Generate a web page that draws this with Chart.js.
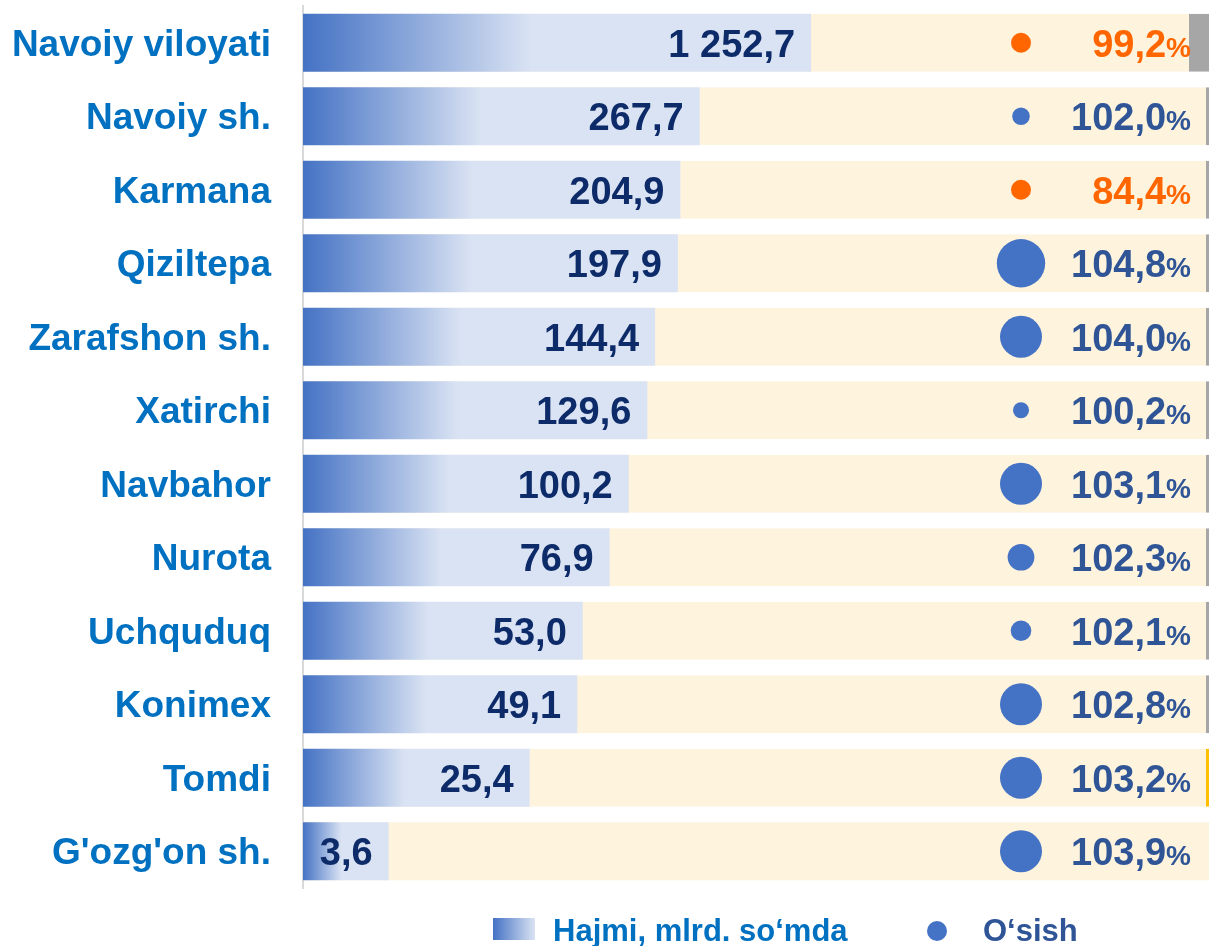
<!DOCTYPE html>
<html>
<head>
<meta charset="utf-8">
<script src="https://cdn.jsdelivr.net/npm/chart.js@4.4.1/dist/chart.umd.min.js"></script>
<style>
  body { margin: 0; background: #fff; font-family: 'Liberation Sans', Arial, sans-serif; overflow: hidden; }
  #wrap { position: relative; width: 1209px; height: 900px; }
  #legend { position: absolute; left: 0; top: 0; width: 1209px; height: 946px; overflow: hidden; pointer-events: none; }
  #legend .box { position: absolute; left: 493px; top: 918px; width: 42px; height: 22px;
    background: linear-gradient(to right, #4472c4, #dae3f3); }
  #legend .dot { position: absolute; left: 927px; top: 921px; width: 20px; height: 20px;
    border-radius: 50%; background: #4472c4; }
  #legend span { position: absolute; font-weight: bold; font-size: 31px; line-height: 31px; white-space: nowrap; }
</style>
</head>
<body>
<div id="wrap"><canvas id="barres"></canvas></div>
<div id="legend"></div>
<script>
  // categories (rayonlar)
  const labels = ['Navoiy viloyati', 'Navoiy sh.', 'Karmana', 'Qiziltepa', 'Zarafshon sh.', 'Xatirchi',
    'Navbahor', 'Nurota', 'Uchquduq', 'Konimex', 'Tomdi', "G'ozg'on sh."]

  // Hajmi, mlrd. so'mda
  const hajmi = [1252.7, 267.7, 204.9, 197.9, 144.4, 129.6, 100.2, 76.9, 53.0, 49.1, 25.4, 3.6]

  // O'sish, %
  const osish = [99.2, 102.0, 84.4, 104.8, 104.0, 100.2, 103.1, 102.3, 102.1, 102.8, 103.2, 103.9]

  const legendNames = ['Hajmi, mlrd. so‘mda', 'O‘sish']

  const xMin = 1.1
  const xMax = 310000
  const bubbleX = 79.25

  // legende en HTML, sous le canvas
  document.getElementById('legend').innerHTML =
    '<div class="box"></div>' +
    '<span style="left:553px;top:915px;color:#0070c0">' + legendNames[0] + '</span>' +
    '<div class="dot"></div>' +
    '<span style="left:983px;top:915px;color:#2f5597">' + legendNames[1] + '</span>'

  function fmtNum(v) {
    let parts = v.toFixed(1).split('.')
    let ent = parts[0].replace(/\B(?=(\d{3})+(?!\d))/g, ' ')
    return ent + ',' + parts[1]
  }

  // degradé bleu de chaque barre
  function barGradient(context) {
    const chart = context.chart
    const area = chart.chartArea
    if (!area || context.type !== 'data') return '#8faadc'
    const xs = chart.scales.x
    const left = xs.getPixelForValue(xMin)
    const end = xs.getPixelForValue(hajmi[context.dataIndex])
    const g = chart.ctx.createLinearGradient(left, 0, left + (end - left) * 0.45, 0)
    g.addColorStop(0, '#4472c4')
    g.addColorStop(1, '#dae3f3')
    return g
  }

  // les bulles ne doivent pas ajouter de marge autour du graphique
  const BubbleCtrl = Chart.registry.getController('bubble')
  BubbleCtrl.prototype.getMaxOverflow = function () { return false }

  const fontFam = "'Liberation Sans', Arial, sans-serif"

  const labelsPlugin = {
    id: 'labelsPlugin',
    afterDatasetsDraw(chart) {
      const ctx = chart.ctx
      ctx.save()
      // valeurs sur les barres
      const metaBar = chart.getDatasetMeta(0)
      ctx.font = 'bold 38px ' + fontFam
      ctx.textAlign = 'right'
      ctx.textBaseline = 'alphabetic'
      ctx.fillStyle = '#0d2b69'
      metaBar.data.forEach((el, i) => {
        ctx.fillText(fmtNum(hajmi[i]), el.x - 16, el.y + 14)
      })
      // pourcentages
      const metaBub = chart.getDatasetMeta(2)
      const right = chart.chartArea.right - 18
      metaBub.data.forEach((el, i) => {
        ctx.fillStyle = osish[i] < 100 ? '#ff6600' : '#2f5597'
        ctx.font = 'bold 28px ' + fontFam
        const wp = ctx.measureText('%').width
        ctx.fillText('%', right, el.y + 14)
        ctx.font = 'bold 38px ' + fontFam
        ctx.fillText(osish[i].toFixed(1).replace('.', ','), right - wp, el.y + 14)
      })
      ctx.restore()
    }
  }

  new Chart(
    document.getElementById('barres'),
    {
      type: 'bar',
      data: {
        labels: labels,
        datasets: [
          {
            label: legendNames[0],
            data: hajmi,
            backgroundColor: barGradient,
            grouped: false,
            order: 2,
            barPercentage: 0.79,
            categoryPercentage: 1
          },
          {
            label: 'fond',
            data: labels.map(() => xMax),
            backgroundColor: '#fef3dd',
            borderColor: labels.map((l, i) => i === 10 ? '#ffc000' : '#a6a6a6'),
            borderWidth: labels.map((l, i) => ({ right: i === 0 ? 20 : (i === 11 ? 0 : 3) })),
            borderSkipped: false,
            grouped: false,
            order: 3,
            barPercentage: 0.79,
            categoryPercentage: 1
          },
          {
            type: 'bubble',
            label: legendNames[1],
            data: labels.map(l => ({ x: bubbleX, y: l })),
            xAxisID: 'x2',
            yAxisID: 'y',
            order: 1,
            backgroundColor: labels.map((l, i) => osish[i] < 100 ? '#ff6600' : '#4472c4'),
            borderWidth: 0,
            radius: (c) => {
              const g = osish[c.dataIndex]
              if (g < 100) return 10
              return 8 + 13 * Math.min(1, Math.max(0, (g - 101.95) / 0.85)) + Math.max(0, g - 104) * 4
            }
          }
        ]
      },
      options: {
        indexAxis: 'y',
        responsive: true,
        maintainAspectRatio: false,
        animation: false,
        events: [],
        layout: { padding: { top: 6, bottom: 12, left: 0, right: 0 } },
        plugins: {
          legend: { display: false },
          tooltip: { enabled: false }
        },
        scales: {
          x: {
            type: 'logarithmic',
            min: xMin,
            max: xMax,
            bounds: 'data',
            display: false
          },
          x2: {
            type: 'linear',
            axis: 'x',
            min: 0,
            max: 100,
            display: false
          },
          y: {
            type: 'category',
            offset: true,
            grid: { display: false, drawTicks: false },
            border: { display: true, color: '#d9d9d9', width: 2 },
            ticks: {
              color: '#0070c0',
              padding: 32,
              labelOffset: 3,
              font: { family: fontFam, size: 37, weight: 'bold' }
            },
            afterFit: (scale) => {
              scale.width = 303
              scale.paddingTop = 0
              scale.paddingBottom = 0
            }
          }
        }
      },
      plugins: [labelsPlugin]
    }
  );
</script>
</body>
</html>
